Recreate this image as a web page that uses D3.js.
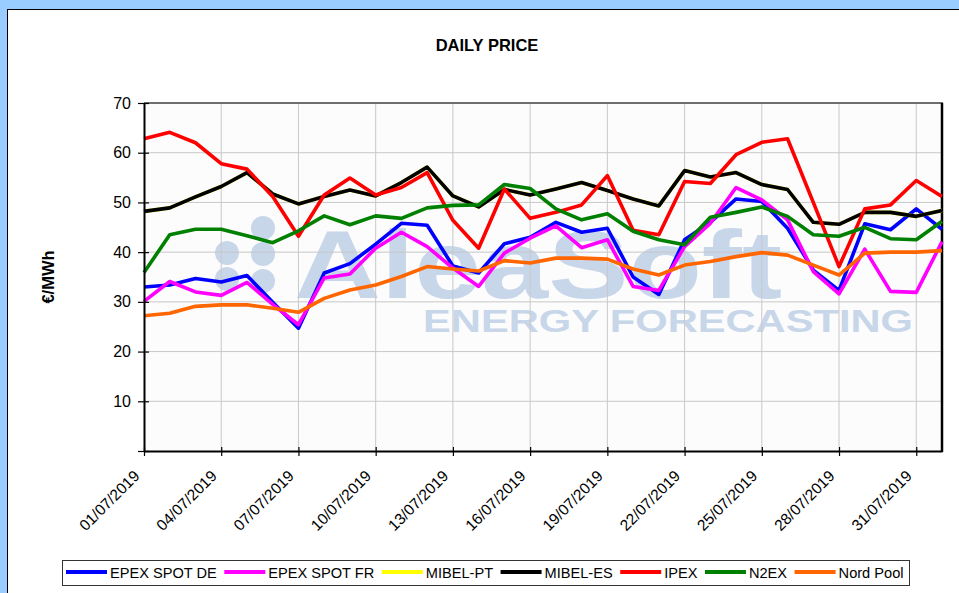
<!DOCTYPE html>
<html>
<head>
<meta charset="utf-8">
<script src="https://cdn.jsdelivr.net/npm/d3@7"></script>
<style>
  body { margin: 0; background: #99ccff; overflow: hidden; }
  svg { display: block; }
  text { font-family: "Liberation Sans", Arial, sans-serif; }
</style>
</head>
<body>
<svg id="chart" width="959" height="593"></svg>
<script>
// ---------- DATA ----------
const dates = [
  "01/07/2019","02/07/2019","03/07/2019","04/07/2019","05/07/2019","06/07/2019","07/07/2019","08/07/2019",
  "09/07/2019","10/07/2019","11/07/2019","12/07/2019","13/07/2019","14/07/2019","15/07/2019","16/07/2019",
  "17/07/2019","18/07/2019","19/07/2019","20/07/2019","21/07/2019","22/07/2019","23/07/2019","24/07/2019",
  "25/07/2019","26/07/2019","27/07/2019","28/07/2019","29/07/2019","30/07/2019","31/07/2019","01/08/2019"
];
const xTickLabels = ["01/07/2019","04/07/2019","07/07/2019","10/07/2019","13/07/2019","16/07/2019",
  "19/07/2019","22/07/2019","25/07/2019","28/07/2019","31/07/2019"];
const yTickValues = [0, 10, 20, 30, 40, 50, 60, 70];

const epexDE = [33.0,33.4,34.7,34.0,35.3,29.9,24.7,35.8,37.7,41.6,45.8,45.4,37.2,35.8,41.7,43.0,
                46.0,44.0,44.8,35.0,31.5,42.5,46.0,50.7,50.2,44.8,36.4,32.3,45.7,44.5,48.7,44.6];
const epexFR = [30.1,34.1,32.0,31.3,33.9,29.5,25.4,34.8,35.6,40.8,44.0,41.1,36.8,33.1,39.8,42.8,
                45.3,40.9,42.5,33.1,32.3,41.1,45.8,53.0,50.5,46.5,36.1,31.6,40.6,32.1,31.9,42.1];
const mibelPT = [48.2,48.9,51.1,53.2,56.0,51.7,49.7,51.2,52.5,51.3,54.0,57.1,51.3,49.1,52.6,51.5,
                 52.7,54.0,52.4,50.7,49.3,56.4,55.1,56.0,53.6,52.6,46.0,45.6,48.0,48.0,47.2,48.4];
const mibelES = [48.2,48.9,51.1,53.2,56.0,51.7,49.7,51.2,52.5,51.3,54.0,57.1,51.3,49.1,52.6,51.5,
                 52.7,54.0,52.4,50.7,49.3,56.4,55.1,56.0,53.6,52.6,46.0,45.6,48.0,48.0,47.2,48.4];
const ipex = [62.8,64.1,62.0,57.8,56.7,51.2,43.2,51.5,54.9,51.5,53.0,56.0,46.4,40.8,52.7,46.8,
              48.0,49.5,55.4,44.4,43.5,54.2,53.8,59.6,62.1,62.8,50.0,37.1,48.7,49.5,54.4,51.2];
const n2ex = [35.9,43.5,44.6,44.6,43.3,41.9,44.3,47.3,45.5,47.3,46.8,48.9,49.4,49.5,53.6,52.8,
              48.7,46.5,47.7,44.2,42.5,41.5,47.0,48.0,49.1,47.2,43.5,43.2,45.0,42.7,42.5,46.2];
const nordPool = [27.2,27.7,29.1,29.4,29.4,28.7,27.9,30.7,32.4,33.4,35.1,37.1,36.6,36.2,38.3,37.8,
                  38.8,38.8,38.6,36.6,35.4,37.4,38.1,39.1,39.9,39.4,37.4,35.4,39.8,40.0,40.0,40.3];

const seriesNames = ["EPEX SPOT DE","EPEX SPOT FR","MIBEL-PT","MIBEL-ES","IPEX","N2EX","Nord Pool"];
const seriesValues = [epexDE, epexFR, mibelPT, mibelES, ipex, n2ex, nordPool];
const seriesColors = ["#0000ff","#ff00ff","#ffff00","#000000","#ff0000","#008000","#ff6600"];

// ---------- CHART ----------
const svg = d3.select("#chart");

// white panel
svg.append("rect").attr("x", 7.5).attr("y", 9.5).attr("width", 970).attr("height", 600)
  .attr("fill", "#ffffff").attr("stroke", "#000").attr("stroke-width", 1);

const x = d3.scaleLinear().domain([0, dates.length - 1]).range([144, 942]);
const y = d3.scaleLinear().domain([0, 70]).range([451, 103]);

// plot background
svg.append("rect").attr("x", x(0)).attr("y", y(70))
  .attr("width", x(dates.length - 1) - x(0)).attr("height", y(0) - y(70))
  .attr("fill", "#fcfcfc");

// watermark
const wm = svg.append("g").attr("fill", "#c8d6ea");
[[263,228],[227,253],[263,254],[227,279],[263,281]].forEach(p => {
  wm.append("circle").attr("cx", p[0]).attr("cy", p[1]).attr("r", 12);
});
wm.append("text").attr("x", 294).attr("y", 298)
  .attr("font-size", 96).attr("font-weight", "bold")
  .attr("textLength", 488).attr("lengthAdjust", "spacingAndGlyphs")
  .text("AleaSoft");
wm.append("text").attr("x", 423).attr("y", 332)
  .attr("font-size", 31).attr("font-weight", "bold")
  .attr("textLength", 490).attr("lengthAdjust", "spacingAndGlyphs")
  .text("ENERGY FORECASTING");

// gridlines
const tickDays = xTickLabels.map(l => dates.indexOf(l));
svg.append("g").selectAll("line.h").data(yTickValues.filter(v => v > 0 && v < 70)).join("line")
  .attr("x1", x(0)).attr("x2", x(dates.length - 1))
  .attr("y1", d => y(d)).attr("y2", d => y(d))
  .attr("stroke", "#c8c8c8").attr("stroke-width", 1);
svg.append("g").selectAll("line.v").data(tickDays.filter(d => d > 0)).join("line")
  .attr("x1", d => x(d)).attr("x2", d => x(d))
  .attr("y1", y(70)).attr("y2", y(0))
  .attr("stroke", "#c8c8c8").attr("stroke-width", 1);

// frame top / right
svg.append("line").attr("x1", x(0)).attr("x2", x(dates.length - 1) + 1)
  .attr("y1", y(70)).attr("y2", y(70)).attr("stroke", "#6e6e6e").attr("stroke-width", 2);
svg.append("line").attr("x1", x(dates.length - 1)).attr("x2", x(dates.length - 1))
  .attr("y1", y(70)).attr("y2", y(0) + 1).attr("stroke", "#000").attr("stroke-width", 2.5);

// series
const line = d3.line().x((d, i) => x(i)).y(d => y(d));
seriesValues.forEach((vals, k) => {
  svg.append("path").datum(vals)
    .attr("d", line)
    .attr("fill", "none")
    .attr("stroke", seriesColors[k])
    .attr("stroke-width", 3.6)
    .attr("stroke-linejoin", "round");
});

// y axis
const yAxis = svg.append("g").attr("transform", `translate(${x(0)},0)`)
  .call(d3.axisLeft(y).tickValues(yTickValues).tickFormat(d => d === 0 ? "" : d).tickSize(6).tickSizeOuter(0));
yAxis.select(".domain").attr("stroke", "#000").attr("stroke-width", 2);
yAxis.selectAll(".tick line").attr("x1", 5).attr("x2", -6).attr("stroke", "#000").attr("stroke-width", 1.2);
yAxis.selectAll(".tick text").attr("x", -13).attr("font-size", 16)
  .attr("font-family", "'Liberation Sans', Arial, sans-serif").attr("fill", "#000");

// x axis
const xAxis = svg.append("g").attr("transform", `translate(0,${y(0)})`)
  .call(d3.axisBottom(x).tickValues(tickDays).tickFormat(i => dates[i]).tickSize(5).tickSizeOuter(0));
xAxis.select(".domain").attr("stroke", "#000").attr("stroke-width", 2);
xAxis.selectAll(".tick line").attr("y1", -4).attr("y2", 5).attr("stroke", "#000").attr("stroke-width", 1.2);
xAxis.selectAll(".tick text")
  .attr("x", 0).attr("y", 0).attr("dy", 0)
  .attr("transform", "translate(-4,26) rotate(-45)")
  .attr("text-anchor", "end")
  .attr("font-size", 15.5)
  .attr("font-family", "'Liberation Sans', Arial, sans-serif").attr("fill", "#000");

// title
svg.append("text").attr("x", 487).attr("y", 51).attr("text-anchor", "middle")
  .attr("font-size", 16.5).attr("font-weight", "bold").text("DAILY PRICE");

// y label
svg.append("text").attr("transform", "translate(54,277) rotate(-90)")
  .attr("text-anchor", "middle").attr("font-size", 16.5).attr("font-weight", "bold").text("€/MWh");

// legend
const leg = svg.append("g");
const legBox = leg.append("rect").attr("x", 62.5).attr("y", 560.5).attr("height", 25)
  .attr("fill", "#fff").attr("stroke", "#333").attr("stroke-width", 1);
let lx = 66;
seriesNames.forEach((name, k) => {
  leg.append("line").attr("x1", lx).attr("x2", lx + 41).attr("y1", 572).attr("y2", 572)
    .attr("stroke", seriesColors[k]).attr("stroke-width", 4);
  const t = leg.append("text").attr("x", lx + 44).attr("y", 578).attr("font-size", 14.6).text(name);
  lx = lx + 44 + t.node().getComputedTextLength() + 7.5;
});
legBox.attr("width", lx - 7.5 + 6 - 62.5);
</script>
</body>
</html>
